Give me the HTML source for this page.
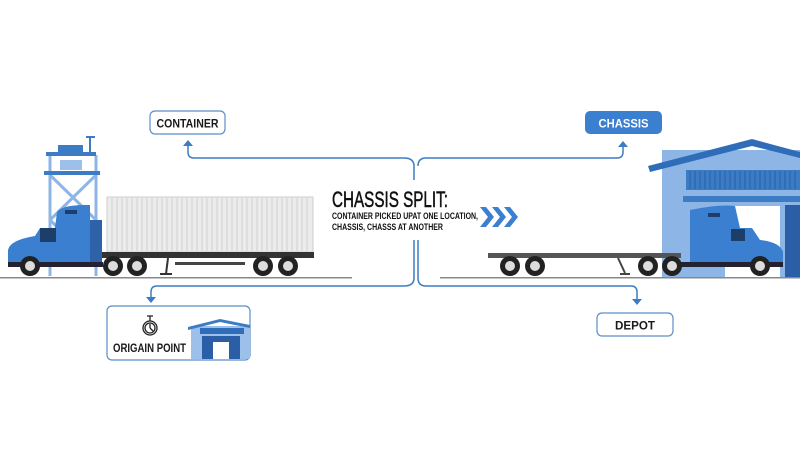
<!DOCTYPE html>
<html><head><meta charset="utf-8"><style>
html,body{margin:0;padding:0;background:#fff;width:800px;height:450px;overflow:hidden}
svg{display:block}
text{font-family:"Liberation Sans",sans-serif}
</style></head><body>
<svg width="800" height="450" viewBox="0 0 800 450" xmlns="http://www.w3.org/2000/svg">
<rect width="800" height="450" fill="#fff"/>
<g fill="none" stroke="#3b7cc4" stroke-width="1.5">
<path d="M188 145 V152 Q188 158 194 158 H404 Q414 158 414 166 V180"/>
<path d="M414 240 V278 Q414 286 404 286 H157 Q151 286 151 292 V298"/>
<path d="M418 166 Q418 158 426 158 H617 Q623 158 623 152 V146"/>
<path d="M418 240 V278 Q418 286 426 286 H631 Q637 286 637 292 V300"/>
</g>
<g fill="#3b7cc4">
<path d="M183 146 L188 140 L193 146Z"/>
<path d="M618 147 L623 141 L628 147Z"/>
<path d="M146 297 L151 303 L156 297Z"/>
<path d="M632 299 L637 305 L642 299Z"/>
</g>
<rect x="150" y="111" width="75" height="23" rx="5" fill="#fff" stroke="#5b8ec8" stroke-width="1.2"/>
<text x="187.5" y="127.5" font-size="12" font-weight="bold" text-anchor="middle" fill="#1a1a1a" textLength="62" lengthAdjust="spacingAndGlyphs">CONTAINER</text>
<rect x="585" y="111" width="77" height="23" rx="5" fill="#3b7fd0"/>
<text x="623.5" y="127.5" font-size="12" font-weight="bold" text-anchor="middle" fill="#fff" textLength="50" lengthAdjust="spacingAndGlyphs">CHASSIS</text>
<rect x="597" y="313" width="76" height="23" rx="5" fill="#fff" stroke="#5b8ec8" stroke-width="1.2"/>
<text x="635" y="329.5" font-size="12" font-weight="bold" text-anchor="middle" fill="#1a1a1a" textLength="40" lengthAdjust="spacingAndGlyphs">DEPOT</text>
<rect x="107" y="306" width="143" height="54" rx="5" fill="#fff" stroke="#5b8ec8" stroke-width="1.2"/>
<text x="113" y="352" font-size="12" font-weight="bold" fill="#1a1a1a" textLength="73" lengthAdjust="spacingAndGlyphs">ORIGAIN POINT</text>
<g fill="none" stroke="#222" stroke-width="1.3">
<circle cx="150" cy="328" r="7"/><circle cx="150" cy="328" r="5"/>
<path d="M150 321 V316 M147 316 H153 M150 328 L153 331 M150 328 V324"/>
</g>
<rect x="191" y="326" width="59" height="33" fill="#9cc0ea"/>
<path d="M188 327 L220 319 L250 325 L250 328 L220 322 L188 330Z" fill="#3b7cc4"/>
<rect x="200" y="328" width="44" height="6" fill="#2f6db8"/>
<rect x="202" y="336" width="38" height="23" fill="#2a5fa8"/>
<rect x="213" y="342" width="16" height="17" fill="#fff"/>
<text x="332" y="207" font-size="22" fill="#111" stroke="#111" stroke-width="0.5" textLength="116" lengthAdjust="spacingAndGlyphs">CHASSIS SPLIT:</text>
<text x="332" y="219" font-size="9" font-weight="bold" fill="#111" textLength="146" lengthAdjust="spacingAndGlyphs">CONTAINER PICKED UPAT ONE LOCATION,</text>
<text x="332" y="230" font-size="9" font-weight="bold" fill="#111" textLength="111" lengthAdjust="spacingAndGlyphs">CHASSIS, CHASSS AT ANOTHER</text>
<g fill="#3b7fd0">
<path d="M480 207 h6 l8 10 l-8 10 h-6 l8 -10z"/>
<path d="M492 207 h6 l8 10 l-8 10 h-6 l8 -10z"/>
<path d="M504 207 h6 l8 10 l-8 10 h-6 l8 -10z"/>
</g>
<rect x="0" y="277" width="352" height="1.5" fill="#888"/>
<rect x="440" y="277" width="360" height="1.5" fill="#888"/>
<g stroke="#8db6e6" stroke-width="3" fill="none">
<path d="M50 155 V276 M96 155 V276 M50 175 L96 220 M96 175 L50 220 M50 220 L96 265"/>
</g>
<rect x="44" y="171" width="56" height="4" fill="#3b7cc4"/>
<rect x="46" y="152" width="50" height="4" fill="#3b7cc4"/>
<rect x="58" y="145" width="25" height="8" fill="#3b7cc4"/>
<rect x="60" y="160" width="22" height="10" fill="#9cc0ea"/>
<path d="M86 137 H95 M90 137 V152" stroke="#3b7cc4" stroke-width="2"/>
<rect x="107" y="197" width="206" height="55" fill="#ececec" stroke="#ccc"/>
<g stroke="#d0d0d0" stroke-width="1">
<path d="M112 198V251M117 198V251M122 198V251M127 198V251M132 198V251M137 198V251M142 198V251M147 198V251M152 198V251M157 198V251M162 198V251M167 198V251M172 198V251M177 198V251M182 198V251M187 198V251M192 198V251M197 198V251M202 198V251M207 198V251M212 198V251M217 198V251M222 198V251M227 198V251M232 198V251M237 198V251M242 198V251M247 198V251M252 198V251M257 198V251M262 198V251M267 198V251M272 198V251M277 198V251M282 198V251M287 198V251M292 198V251M297 198V251M302 198V251M307 198V251"/>
</g>
<rect x="102" y="252" width="212" height="6" fill="#333"/>
<rect x="175" y="262" width="70" height="3" fill="#444"/>
<path d="M168 258 L166 274 M160 274 H172" stroke="#333" stroke-width="2"/>
<path d="M8 250 Q10 240 35 236 L40 228 L55 228 L57 212 Q62 205 85 205 L90 205 V262 H8Z" fill="#3b7fd0"/>
<rect x="40" y="228" width="16" height="14" fill="#1e3e6a"/>
<rect x="65" y="210" width="12" height="4" fill="#1e3e6a"/>
<rect x="90" y="220" width="12" height="42" fill="#2d62a8"/>
<rect x="8" y="262" width="95" height="5" fill="#223"/>
<g>
<circle cx="30" cy="266" r="10" fill="#222"/><circle cx="30" cy="266" r="5" fill="#ddd"/>
<circle cx="113" cy="266" r="10" fill="#222"/><circle cx="113" cy="266" r="5" fill="#ddd"/>
<circle cx="137" cy="266" r="10" fill="#222"/><circle cx="137" cy="266" r="5" fill="#ddd"/>
<circle cx="263" cy="266" r="10" fill="#222"/><circle cx="263" cy="266" r="5" fill="#ddd"/>
<circle cx="288" cy="266" r="10" fill="#222"/><circle cx="288" cy="266" r="5" fill="#ddd"/>
</g>
<rect x="662" y="150" width="138" height="127" fill="#8db6e6"/>
<path d="M648 166 L752 139 L800 152 V158 L752 146 L650 172Z" fill="#2f6db8"/>
<rect x="686" y="170" width="114" height="20" fill="#3b7cc4"/>
<g stroke="#2a5fa8" stroke-width="1"><path d="M690 171V189M695 171V189M700 171V189M705 171V189M710 171V189M715 171V189M720 171V189M725 171V189M730 171V189M735 171V189M740 171V189M745 171V189M750 171V189M755 171V189M760 171V189M765 171V189M770 171V189M775 171V189M780 171V189M785 171V189M790 171V189M795 171V189"/></g>
<rect x="683" y="196" width="117" height="6" fill="#3b7cc4"/>
<rect x="725" y="206" width="55" height="71" fill="#fff"/>
<rect x="785" y="205" width="15" height="72" fill="#2a5fa8"/>
<rect x="488" y="253" width="193" height="5" fill="#555"/>
<path d="M618 258 L625 273 M620 274 H630" stroke="#444" stroke-width="2"/>
<path d="M690 262 V210 Q720 204 735 206 L740 228 L752 228 L760 240 Q780 242 783 252 V262Z" fill="#3b7fd0"/>
<rect x="731" y="229" width="14" height="12" fill="#1e3e6a"/>
<rect x="708" y="213" width="12" height="4" fill="#1e3e6a"/>
<rect x="680" y="262" width="103" height="5" fill="#223"/>
<g>
<circle cx="510" cy="266" r="10" fill="#222"/><circle cx="510" cy="266" r="5" fill="#ddd"/>
<circle cx="535" cy="266" r="10" fill="#222"/><circle cx="535" cy="266" r="5" fill="#ddd"/>
<circle cx="648" cy="266" r="10" fill="#222"/><circle cx="648" cy="266" r="5" fill="#ddd"/>
<circle cx="672" cy="266" r="10" fill="#222"/><circle cx="672" cy="266" r="5" fill="#ddd"/>
<circle cx="760" cy="266" r="10" fill="#222"/><circle cx="760" cy="266" r="5" fill="#ddd"/>
</g>
</svg>
</body></html>
